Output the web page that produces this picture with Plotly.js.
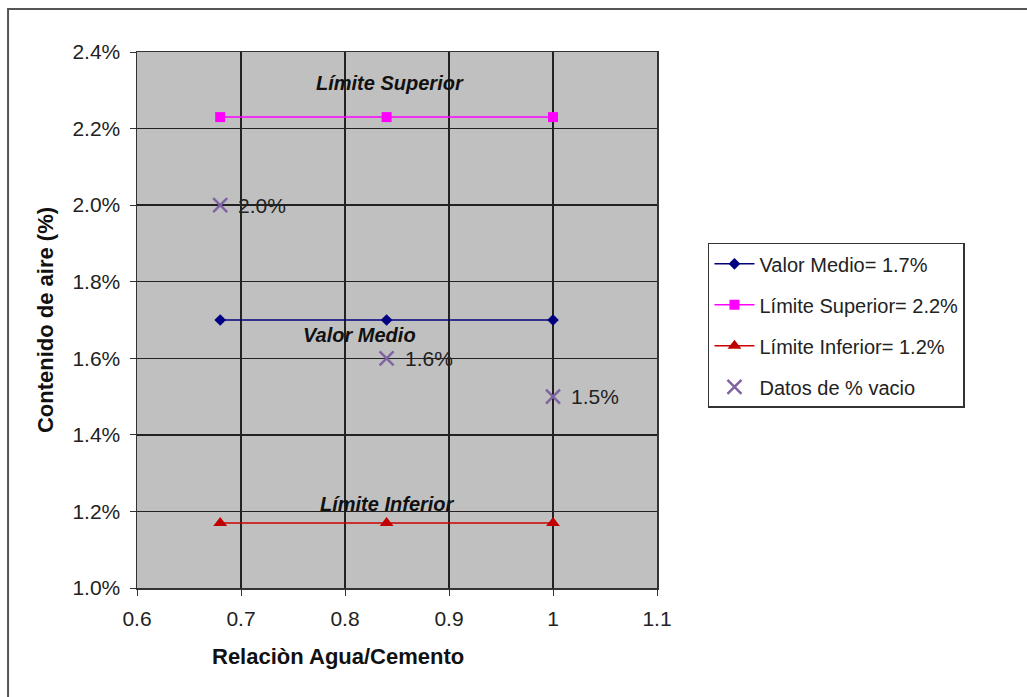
<!DOCTYPE html>
<html>
<head>
<meta charset="utf-8">
<script src="https://cdn.plot.ly/plotly-3.0.1.min.js"></script>
<style>html,body{margin:0;padding:0;background:#fff;}</style>
</head>
<body>
<div id="chart" style="width:1027px;height:697px;"></div>
<script>
// Data
const xRatio = [0.68, 0.84, 1.0];
const valorMedio = [0.017, 0.017, 0.017];
const limiteSuperior = [0.0223, 0.0223, 0.0223];
const limiteInferior = [0.0117, 0.0117, 0.0117];
const datosVacio = [0.020, 0.016, 0.015];
const seriesNames = ["Valor Medio= 1.7%", "Límite Superior= 2.2%", "Límite Inferior= 1.2%", "Datos de % vacio"];
const labelTexts = ["Límite Superior", "Valor Medio", "Límite Inferior"];
const labelX = [0.843, 0.814, 0.841];
const labelY = [0.0232, 0.0166, 0.0122];
const xTitle = "Relaciòn Agua/Cemento";
const yTitle = "Contenido de aire (%)";

const font = "Arial, 'Liberation Sans', sans-serif";

const traces = [
  {x: xRatio, y: valorMedio, name: seriesNames[0], mode: 'lines+markers', legendgroup: 'a',
   line: {color: '#000080', width: 1.5}, marker: {symbol: 'diamond', size: 9, color: '#000080'}},
  {x: xRatio, y: limiteSuperior, name: seriesNames[1], mode: 'lines+markers', legendgroup: 'b',
   line: {color: '#FF00FF', width: 1.5}, marker: {symbol: 'square', size: 10, color: '#FF00FF'}},
  {x: xRatio, y: limiteInferior, name: seriesNames[2], mode: 'lines+markers', legendgroup: 'c',
   line: {color: '#CC0000', width: 1.5}, marker: {symbol: 'triangle-up', size: 12, color: '#C00000'}},
  {x: xRatio, y: datosVacio, name: seriesNames[3], mode: 'markers', legendgroup: 'd',
   marker: {symbol: 'x-thin', size: 14, line: {color: '#8064A2', width: 2.5}, color: '#8064A2'}}
];

const annotations = labelTexts.map((t, i) => ({
  x: labelX[i], y: labelY[i], xref: 'x', yref: 'y', text: '<b><i>' + t + '</i></b>',
  showarrow: false, font: {family: font, size: 20, color: '#111'}
})).concat(datosVacio.map((v, i) => ({
  x: xRatio[i], y: v, xref: 'x', yref: 'y', text: (v * 100).toFixed(1) + '%',
  showarrow: false, xanchor: 'left', xshift: 16, font: {family: font, size: 21, color: '#222'}
}))).concat([{
  x: 0.3865, y: -0.1287, xref: 'paper', yref: 'paper', text: '<b>' + xTitle + '</b>',
  showarrow: false, xanchor: 'center', yanchor: 'middle', font: {family: font, size: 22, color: '#111'}
}]);

const layout = {
  width: 1027, height: 697,
  margin: {l: 137, r: 370, t: 52, b: 109},
  paper_bgcolor: '#fff', plot_bgcolor: '#C0C0C0',
  font: {family: font, size: 20, color: '#222'},
  showlegend: true,
  legend: {x: 1.098, y: 0.644, xanchor: 'left', yanchor: 'top',
    bordercolor: '#333', borderwidth: 1.5, bgcolor: '#fff',
    font: {family: font, size: 20, color: '#222'},
    traceorder: 'grouped', tracegroupgap: 12, itemwidth: 40},
  xaxis: {range: [0.6, 1.1], dtick: 0.1, tick0: 0.6, showgrid: true, gridcolor: '#222', gridwidth: 1.5,
    showline: true, linecolor: '#333', linewidth: 1.5, mirror: true,
    ticks: 'outside', ticklen: 6, tickcolor: '#333', zeroline: false, ticklabelstandoff: 5,
    tickfont: {family: font, size: 21, color: '#222'}},
  yaxis: {range: [0.01, 0.024], dtick: 0.002, tick0: 0.01, tickformat: '.1%', showgrid: true, gridcolor: '#222', gridwidth: 1.5,
    showline: true, linecolor: '#333', linewidth: 1.5, mirror: true,
    ticks: 'outside', ticklen: 6, tickcolor: '#333', zeroline: false, ticklabelstandoff: 5,
    tickfont: {family: font, size: 21, color: '#222'},
    title: {text: '<b>' + yTitle + '</b>', font: {family: font, size: 22, color: '#111'}, standoff: 12}},
  annotations: annotations,
  shapes: [{type: 'rect', xref: 'paper', yref: 'paper', x0: -0.248, x1: 1.75, y0: -0.25, y1: 1.080,
    line: {color: '#555', width: 2}, fillcolor: 'rgba(0,0,0,0)', layer: 'below'}]
};

Plotly.newPlot('chart', traces, layout, {displayModeBar: false, staticPlot: true});
</script>
</body>
</html>
